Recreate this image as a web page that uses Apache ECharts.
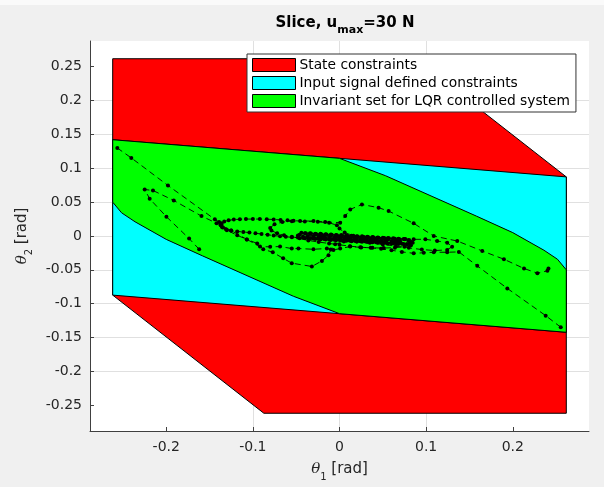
<!DOCTYPE html>
<html><head><meta charset="utf-8">
<script src="https://cdn.jsdelivr.net/npm/echarts@6/dist/echarts.min.js"></script>
<style>html,body{margin:0;padding:0;background:#f0f0f0}#c{width:604px;height:487px}</style>
</head><body><div id="c"></div>
<script>
// ---- tick labels ----
const xTicks = [-0.2, -0.1, 0, 0.1, 0.2];
const yTicks = [-0.25, -0.2, -0.15, -0.1, -0.05, 0, 0.05, 0.1, 0.15, 0.2, 0.25];
const axisMin = -0.288, axisMax = 0.288;

// ---- polygons (theta1, theta2) ----
const stateTheta1 = [-0.2618, 0.0873, 0.2618, 0.2618, -0.0873, -0.2618];
const stateTheta2 = [0.2618, 0.2618, 0.0873, -0.2618, -0.2618, -0.0873];
const inputTheta1 = [-0.2618, 0.2618, 0.2618, -0.2618];
const inputTheta2 = [0.1422, 0.0873, -0.1422, -0.0873];
const invTheta1 = [-0.2618, 0.0, 0.0532, 0.158, 0.200, 0.236, 0.2516, 0.2618, 0.2618, 0.0, -0.0532, -0.158, -0.200, -0.236, -0.2516, -0.2618];
const invTheta2 = [0.1422, 0.1147, 0.089, 0.0294, 0.005, -0.021, -0.0343, -0.050, -0.1422, -0.1147, -0.089, -0.0294, -0.005, 0.021, 0.0343, 0.050];

// ---- trajectories [theta1, theta2] ----
const traj1 = [[-0.2565,0.1300],[-0.2403,0.1153],[-0.1980,0.0746],[-0.1439,0.0246],[-0.1390,0.0205],[-0.1362,0.0165],[-0.1345,0.0125],[-0.1300,0.0085],[-0.1180,0.0010],[-0.1070,-0.0050],[-0.0918,-0.0156],[-0.0800,-0.0160],[-0.0686,-0.0156],[-0.0551,-0.0185],[-0.0474,-0.0185],[-0.0301,-0.0196],[-0.0146,-0.0185],[-0.0070,-0.0206],[0.0008,-0.0185],[0.0124,-0.0156],[0.0250,-0.0168],[0.0380,-0.0175],[0.0510,-0.0178],[0.0640,-0.0172],[0.0750,-0.0160],[0.0825,-0.0135],[0.0845,-0.0100],[0.0800,-0.0070],
 [0.074,-0.0043],[0.062,-0.0033],[0.050,-0.0024],[0.038,-0.0015],[0.026,-0.0005],[0.014,0.0004],[0.002,0.0013],[-0.010,0.0023],[-0.022,0.0032],[-0.034,0.0042],[-0.044,0.0049],[-0.048,0.0008],
 [-0.040,-0.0034],[-0.028,-0.0043],[-0.016,-0.0053],[-0.004,-0.0062],[0.008,-0.0071],[0.020,-0.0081],[0.032,-0.0090],[0.044,-0.0099],[0.056,-0.0109],[0.068,-0.0118],[0.078,-0.0120],[0.083,-0.0090],
 [0.068,-0.0048],[0.056,-0.0039],[0.044,-0.0029],[0.032,-0.0020],[0.020,-0.0011],[0.008,-0.0001],[-0.004,0.0008],[-0.016,0.0017],[-0.028,0.0027],[-0.037,0.0000],
 [-0.034,-0.0028],[-0.022,-0.0038],[-0.010,-0.0047],[0.002,-0.0057],[0.014,-0.0066],[0.026,-0.0075],[0.038,-0.0085],[0.050,-0.0094],[0.062,-0.0103],[0.070,-0.0080],
 [0.050,-0.0040],[0.038,-0.0035],[0.026,-0.0025],[0.014,-0.0016],[0.002,-0.0007],[-0.010,0.0003],[-0.020,0.0010],[-0.024,-0.0010],
 [-0.016,-0.0033],[-0.004,-0.0042],[0.008,-0.0051],[0.020,-0.0061],[0.032,-0.0070],[0.044,-0.0079],[0.054,-0.0067],
 [0.040,-0.0050],[0.025,-0.0035],[0.010,-0.0025],[0.000,-0.0020],[0.008,-0.0030],[0.018,-0.0040],[0.028,-0.0045]];

const traj2 = [[0.2412,-0.0480],[0.2400,-0.0515],[0.2284,-0.0549],[0.2130,-0.0480],[0.1898,-0.0343],[0.1648,-0.0221],[0.1359,-0.0074],[0.1088,0.0000],[0.0856,0.0187],[0.0567,0.0368],[0.0451,0.0418],[0.0259,0.0466],[0.0124,0.0393],[0.0066,0.0294],[0.0008,0.0197],[-0.0165,0.0206],[-0.0300,0.0221],
 [-0.0455,0.0221],[-0.053,0.0226],[-0.060,0.0232],[-0.068,0.0238],[-0.076,0.0244],[-0.084,0.0248],[-0.092,0.0250],[-0.100,0.0250],[-0.108,0.0250],[-0.115,0.0248],[-0.122,0.0242],[-0.128,0.0232],[-0.133,0.0215],[-0.1362,0.0190],[-0.1372,0.0160],[-0.1355,0.0128],[-0.1310,0.0100],[-0.1250,0.0080],[-0.1180,0.0068],[-0.1110,0.0059],[-0.1040,0.0050],[-0.0970,0.0040],[-0.0900,0.0030],[-0.0830,0.0018],[-0.0760,0.0008],[-0.0686,-0.0005],[-0.0620,-0.0012],[-0.0550,-0.0018],[-0.0480,-0.0022],
 [-0.034,-0.0040],[-0.022,-0.0050],[-0.010,-0.0058],[0.002,-0.0066],[0.014,-0.0076],[0.026,-0.0085],[0.038,-0.0094],[0.050,-0.0104],[0.062,-0.0112],[0.074,-0.0118],[0.081,-0.0110],[0.080,-0.0060],
 [0.068,-0.0040],[0.056,-0.0030],[0.044,-0.0021],[0.032,-0.0012],[0.020,-0.0002],[0.008,0.0007],[-0.004,0.0016],[-0.016,0.0026],[-0.028,0.0035],[-0.040,0.0040],[-0.046,0.0020],
 [-0.042,-0.0010],[-0.030,-0.0020],[-0.018,-0.0030],[-0.006,-0.0040],[0.006,-0.0048],[0.018,-0.0057],[0.030,-0.0066],[0.042,-0.0075],[0.054,-0.0084],[0.064,-0.0085],[0.066,-0.0060],[0.056,-0.0045]];

const traj3 = [[-0.1620,-0.0196],[-0.1736,-0.0038],[-0.1998,0.0285],[-0.2191,0.0550],[-0.2249,0.0687],[-0.2153,0.0672],[-0.1913,0.0525],[-0.1593,0.0294],[-0.1420,0.0190],[-0.1250,0.0080],[-0.1070,-0.0050],[-0.0950,-0.0110],[-0.0880,-0.0196],[-0.0770,-0.0240],[-0.0650,-0.0330],[-0.0551,-0.0401],[-0.0319,-0.0450],[-0.0203,-0.0368],[-0.0127,-0.0284],[-0.0100,-0.0200],[-0.0050,-0.0120],[0.0050,-0.0080],[0.0200,-0.0075],[0.0350,-0.0080],[0.0480,-0.0090],[0.0600,-0.0098],[0.0700,-0.0100]];

const traj4 = [[0.2554,-0.1347],[0.2380,-0.1176],[0.1937,-0.0774],[0.1590,-0.0441],[0.1378,-0.0235],[0.1243,-0.0240],[0.1088,-0.0240],[0.0972,-0.0248],[0.0856,-0.0255],[0.0720,-0.0235],[0.0600,-0.0210],[0.0480,-0.0190],[0.0360,-0.0175],[0.0240,-0.0165],[0.0120,-0.0150],[0.0000,-0.0130],[-0.0120,-0.0110],[-0.0240,-0.0090],[-0.0360,-0.0065],[-0.0460,-0.0035],[-0.0550,-0.0010],[-0.0640,0.0010],[-0.0720,0.0040],[-0.0785,0.0080],[-0.0800,0.0120],[-0.0750,0.0175],[-0.0660,0.0205],[-0.0550,0.0218],[-0.0400,0.0215],[-0.0250,0.0210],[-0.0120,0.0195],[-0.0030,0.0160],[0.0000,0.0110],[0.0060,0.0050],[0.0160,0.0005],[0.0280,-0.0015],[0.0400,-0.0028],[0.0520,-0.0035],[0.0640,-0.0040],[0.0760,-0.0045],[0.0856,-0.0049],[0.0991,-0.0049],[0.1127,-0.0074],[0.1243,-0.0098],[0.1300,-0.0157],[0.1243,-0.0205],[0.1100,-0.0215],[0.0950,-0.0200],[0.0800,-0.0175],[0.0650,-0.0150],[0.0500,-0.0125],[0.0350,-0.0100],[0.0200,-0.0080]];

const traj5 = [[-0.042,-0.0027],[-0.036,-0.0032],[-0.030,-0.0037],[-0.024,-0.0041],[-0.018,-0.0046],[-0.012,-0.0051],[-0.006,-0.0055],[0.000,-0.0060],[0.006,-0.0065],[0.012,-0.0069],[0.018,-0.0074],[0.024,-0.0079],[0.030,-0.0083],[0.036,-0.0088],[0.042,-0.0093],[0.048,-0.0097],[0.054,-0.0102],[0.060,-0.0107],[0.066,-0.0111],[0.072,-0.0116],[0.078,-0.0121],
 [0.075,-0.0049],[0.069,-0.0044],[0.063,-0.0039],[0.057,-0.0034],[0.051,-0.0030],[0.045,-0.0025],[0.039,-0.0020],[0.033,-0.0016],[0.027,-0.0011],[0.021,-0.0006],[0.015,-0.0002],[0.009,0.0003],[0.003,0.0008],[-0.003,0.0012],[-0.009,0.0017],[-0.015,0.0022],[-0.021,0.0026],[-0.027,0.0031],[-0.033,0.0036],[-0.039,0.0040],
 [-0.030,-0.0002],[-0.024,-0.0006],[-0.018,-0.0011],[-0.012,-0.0016],[-0.006,-0.0020],[0.000,-0.0025],[0.006,-0.0030],[0.012,-0.0034],[0.018,-0.0039],[0.024,-0.0044],[0.030,-0.0048],[0.036,-0.0053],[0.042,-0.0058],[0.048,-0.0062],[0.054,-0.0067],[0.060,-0.0072],[0.066,-0.0076]];

const trajectories = [traj1, traj2, traj3, traj4, traj5];

// ---- legend / names ----
const legendNames = ['State constraints', 'Input signal defined constraints', 'Invariant set for LQR controlled system'];
const legendColors = ['#ff0000', '#00ffff', '#00ff00'];

function polySeries(name, xs, ys, color, z) {
  return {
    type: 'custom', name: name, z: z, silent: true, animation: false, clip: false,
    itemStyle: { color: color },
    data: xs.map((x, i) => [x, ys[i]]),
    renderItem: function (params, api) {
      if (params.dataIndex !== 0) return;
      const pts = xs.map((x, i) => api.coord([x, ys[i]]));
      return { type: 'polygon', shape: { points: pts }, style: { fill: color, stroke: '#000', lineWidth: 1 } };
    }
  };
}

const series = [
  polySeries(legendNames[0], stateTheta1, stateTheta2, legendColors[0], 1),
  polySeries(legendNames[1], inputTheta1, inputTheta2, legendColors[1], 2),
  polySeries(legendNames[2], invTheta1, invTheta2, legendColors[2], 3)
];
trajectories.forEach(function (t) {
  series.push({
    type: 'line', data: t, z: 5, silent: true, animation: false,
    symbol: 'circle', symbolSize: 4, showSymbol: true, showAllSymbol: true,
    itemStyle: { color: '#000' },
    lineStyle: { color: '#000', width: 0.9, type: [6, 4] }
  });
});

const axisColor = '#404040';
const chart = echarts.init(document.getElementById('c'), null, { renderer: 'canvas' });
chart.setOption({
  backgroundColor: '#f0f0f0',
  animation: false,
  graphic: [{ type: 'rect', shape: { x: 0, y: 0, width: 604, height: 5 }, style: { fill: '#fafafa' }, z: -10 }],
  title: {
    text: '{a|Slice, u}{b|max}{a|=30 N}',
    left: 340, top: 11, textAlign: 'center',
    textStyle: {
      rich: {
        a: { fontFamily: 'DejaVu Sans', fontWeight: 'bold', fontSize: 15, color: '#000', lineHeight: 18, verticalAlign: 'top' },
        b: { fontFamily: 'DejaVu Sans', fontWeight: 'bold', fontSize: 11, color: '#000', lineHeight: 11, padding: [9, 0, 0, 0], verticalAlign: 'top' }
      }
    }
  },
  legend: {
    data: legendNames.map((n, i) => ({ name: n, icon: 'rect', itemStyle: { color: legendColors[i], borderColor: '#000', borderWidth: 1 } })),
    orient: 'vertical', left: 247, top: 54,
    backgroundColor: '#fff', borderColor: '#333', borderWidth: 1, borderRadius: 0,
    padding: [4, 6, 4, 5], itemGap: 4, itemWidth: 43, itemHeight: 13,
    selectedMode: false,
    textStyle: { fontFamily: 'DejaVu Sans', fontSize: 13.8, color: '#000', padding: [0, 0, 0, -1] }
  },
  grid: { left: 90, top: 41, width: 499, height: 392, show: true, backgroundColor: '#fff', borderWidth: 0 },
  xAxis: {
    type: 'value', min: axisMin, max: axisMax, splitNumber: 5, minInterval: 0.1, maxInterval: 0.1,
    name: '{t|θ}{s|1}{r| [rad]}', nameLocation: 'middle', nameGap: 31,
    nameTextStyle: { rich: {
      t: { fontFamily: 'DejaVu Serif', fontStyle: 'italic', fontSize: 15, color: '#262626', lineHeight: 18, verticalAlign: 'top' },
      s: { fontFamily: 'DejaVu Sans', fontSize: 10, color: '#262626', lineHeight: 10, padding: [10, 0, 0, 0], verticalAlign: 'top' },
      r: { fontFamily: 'DejaVu Sans', fontSize: 15, color: '#262626', lineHeight: 18, verticalAlign: 'top' } } },
    axisLine: { show: true, onZero: false, lineStyle: { color: axisColor, width: 1 } },
    axisTick: { show: true, inside: true, length: 4, customValues: xTicks, lineStyle: { color: axisColor } },
    axisLabel: { customValues: xTicks, fontFamily: 'DejaVu Sans', fontSize: 14, color: '#262626', margin: 9 },
    splitLine: { show: true, showMinLine: false, showMaxLine: false, lineStyle: { color: '#e0e0e0', width: 1 } }
  },
  yAxis: {
    type: 'value', min: axisMin, max: axisMax, splitNumber: 11, minInterval: 0.05, maxInterval: 0.05,
    name: '{t|θ}{s|2}{r| [rad]}', nameLocation: 'middle', nameGap: 57, nameRotate: 90,
    nameTextStyle: { rich: {
      t: { fontFamily: 'DejaVu Serif', fontStyle: 'italic', fontSize: 15, color: '#262626', lineHeight: 18, verticalAlign: 'top' },
      s: { fontFamily: 'DejaVu Sans', fontSize: 10, color: '#262626', lineHeight: 10, padding: [10, 0, 0, 0], verticalAlign: 'top' },
      r: { fontFamily: 'DejaVu Sans', fontSize: 15, color: '#262626', lineHeight: 18, verticalAlign: 'top' } } },
    axisLine: { show: true, onZero: false, lineStyle: { color: axisColor, width: 1 } },
    axisTick: { show: true, inside: true, length: 4, customValues: yTicks, lineStyle: { color: axisColor } },
    axisLabel: { customValues: yTicks, fontFamily: 'DejaVu Sans', fontSize: 14, color: '#262626', margin: 8 },
    splitLine: { show: true, showMinLine: false, showMaxLine: false, lineStyle: { color: '#e0e0e0', width: 1 } }
  },
  series: series
});
</script>
</body></html>
